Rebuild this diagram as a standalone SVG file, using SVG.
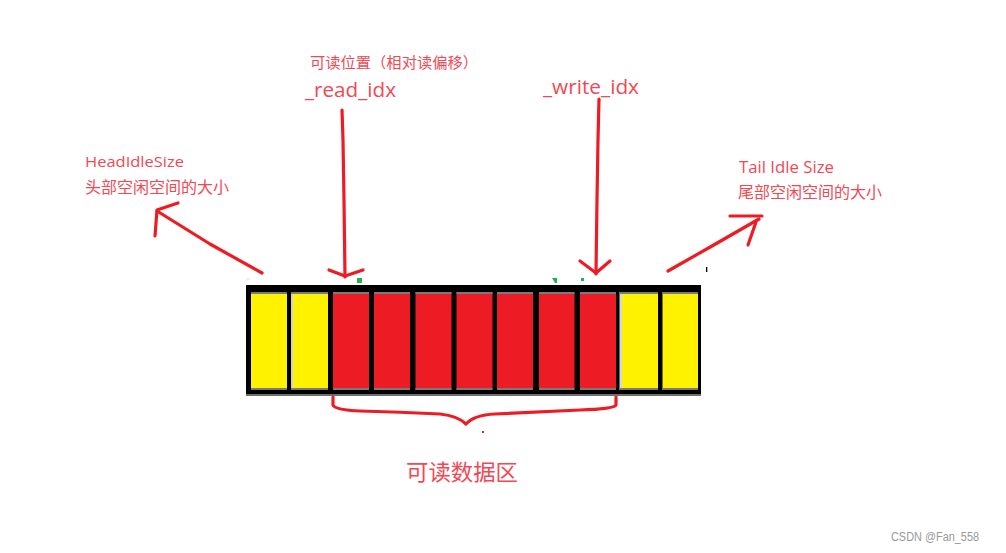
<svg xmlns="http://www.w3.org/2000/svg" width="1006" height="553" viewBox="0 0 1006 553">
<defs>
<style>
.lbl{font-family:"Open Sans","Liberation Sans","Noto Sans CJK SC",sans-serif;fill:#f24854}
.cjk{font-family:"Noto Sans CJK SC","Liberation Sans",sans-serif;fill:#f24854}
.arr{fill:none;stroke:#ed1c24;stroke-width:3.2;stroke-linecap:round;stroke-linejoin:round}
.y{fill:#fff200}
.r{fill:#ed1c24}
.edge{fill:#7a7a7a}
</style>
</defs>
<rect x="0" y="0" width="1006" height="553" fill="#ffffff"/>

<g id="buffer">
<rect x="246" y="285" width="455" height="110" fill="#000000"/>
<rect x="246" y="394" width="455" height="2" fill="#6e6e6e"/>
<g id="cell1"><rect class="y" x="251" y="292" width="36" height="98"/><rect class="edge" x="251" y="292" width="36" height="2"/><rect class="edge" x="251" y="388" width="36" height="2"/></g>
<g id="cell2"><rect x="291" y="292" width="2" height="98" fill="#d0d0d0"/><rect class="y" x="293" y="292" width="35" height="98"/><rect class="edge" x="291" y="292" width="37" height="2"/><rect class="edge" x="291" y="388" width="37" height="2"/></g>
<g id="cell3"><rect class="r" x="333" y="292" width="36" height="98"/><rect class="edge" x="333" y="292" width="36" height="2"/><rect class="edge" x="333" y="388" width="36" height="2"/></g>
<g id="cell4"><rect class="r" x="374" y="292" width="36" height="98"/><rect class="edge" x="374" y="292" width="36" height="2"/><rect class="edge" x="374" y="388" width="36" height="2"/></g>
<g id="cell5"><rect class="r" x="415.5" y="292" width="36" height="98"/><rect class="edge" x="415.5" y="292" width="36" height="2"/><rect class="edge" x="415.5" y="388" width="36" height="2"/></g>
<g id="cell6"><rect class="r" x="456.5" y="292" width="36" height="98"/><rect class="edge" x="456.5" y="292" width="36" height="2"/><rect class="edge" x="456.5" y="388" width="36" height="2"/></g>
<g id="cell7"><rect class="r" x="497" y="292" width="36" height="98"/><rect class="edge" x="497" y="292" width="36" height="2"/><rect class="edge" x="497" y="388" width="36" height="2"/></g>
<g id="cell8"><rect class="r" x="539" y="292" width="35.5" height="98"/><rect class="edge" x="539" y="292" width="35.5" height="2"/><rect class="edge" x="539" y="388" width="35.5" height="2"/></g>
<g id="cell9"><rect class="r" x="580" y="292" width="36" height="98"/><rect class="edge" x="580" y="292" width="36" height="2"/><rect class="edge" x="580" y="388" width="36" height="2"/></g>
<g id="cell10"><rect x="619.5" y="292" width="2.5" height="98" fill="#d8d8d8"/><rect class="y" x="622" y="292" width="36" height="98"/><rect class="edge" x="619.5" y="292" width="38.5" height="2"/><rect class="edge" x="619.5" y="388" width="38.5" height="2"/></g>
<g id="cell11"><rect class="y" x="662.5" y="292" width="35.5" height="98"/><rect class="edge" x="662.5" y="292" width="35.5" height="2"/><rect class="edge" x="662.5" y="388" width="35.5" height="2"/></g>
</g>

<g id="specks">
<rect x="357" y="278" width="5" height="5" fill="#22b14c"/>
<path d="M552,278 h5 v5 h-2 z" fill="#22b14c"/>
<rect x="581" y="278" width="3" height="3" fill="#22b14c"/>
<rect x="246" y="278" width="4" height="2" fill="#e6f6ea"/>
<rect x="706" y="267" width="1.3" height="5" fill="#000000"/>
<rect x="482" y="431" width="2" height="2" fill="#ed1c24"/>
</g>

<g id="connectors">
<g id="arrow-read">
<path class="arr" d="M342,110 L343,140 L344,200 L345,277"/>
<path class="arr" d="M329,270 L345,276 L363,270"/>
</g>
<g id="arrow-write">
<path class="arr" d="M599,99 L598,140 L597,200 L596,274"/>
<path class="arr" d="M580,261 L596,273 L610,261"/>
</g>
<g id="arrow-head">
<path class="arr" d="M262,273 L210,244 L157,211"/>
<path class="arr" d="M178,203 L157,210 L155,236"/>
</g>
<g id="arrow-tail">
<path class="arr" d="M668,271 L712,246 L759,219"/>
<path class="arr" d="M730,216 L762,216"/>
<path class="arr" d="M756,222 L748,245"/>
</g>
<g id="brace">
<path class="arr" d="M333,397 L333,405 Q335,410 360,411 Q400,412 440,414 Q458,416 466,424 Q474,415 495,414 Q540,412 580,410 Q614,409 616,405 L616,397"/>
</g>
</g>

<g id="label-read">
<text class="cjk" x="310" y="68" font-size="15" textLength="168" lengthAdjust="spacingAndGlyphs">可读位置（相对读偏移）</text>
<text class="lbl" x="305" y="97" font-size="20" textLength="91" lengthAdjust="spacingAndGlyphs">_read_idx</text>
</g>
<g id="label-write">
<text class="lbl" x="543" y="94" font-size="20" textLength="96" lengthAdjust="spacingAndGlyphs">_write_idx</text>
</g>
<g id="label-head">
<text class="lbl" x="85" y="167" font-size="15" textLength="99" lengthAdjust="spacingAndGlyphs">HeadIdleSize</text>
<text class="cjk" x="85" y="193" font-size="16" textLength="144" lengthAdjust="spacingAndGlyphs">头部空闲空间的大小</text>
</g>
<g id="label-tail">
<text class="lbl" x="739" y="173" font-size="15.5" textLength="95" lengthAdjust="spacingAndGlyphs">Tail Idle Size</text>
<text class="cjk" x="738" y="198" font-size="16" textLength="144" lengthAdjust="spacingAndGlyphs">尾部空闲空间的大小</text>
</g>
<g id="label-readable">
<text class="cjk" x="406" y="480" font-size="22" textLength="112" lengthAdjust="spacingAndGlyphs">可读数据区</text>
</g>
<g id="watermark">
<text x="891" y="541" font-family="Liberation Sans,sans-serif" font-size="12" fill="#999999" textLength="88" lengthAdjust="spacingAndGlyphs">CSDN @Fan_558</text>
</g>
</svg>
